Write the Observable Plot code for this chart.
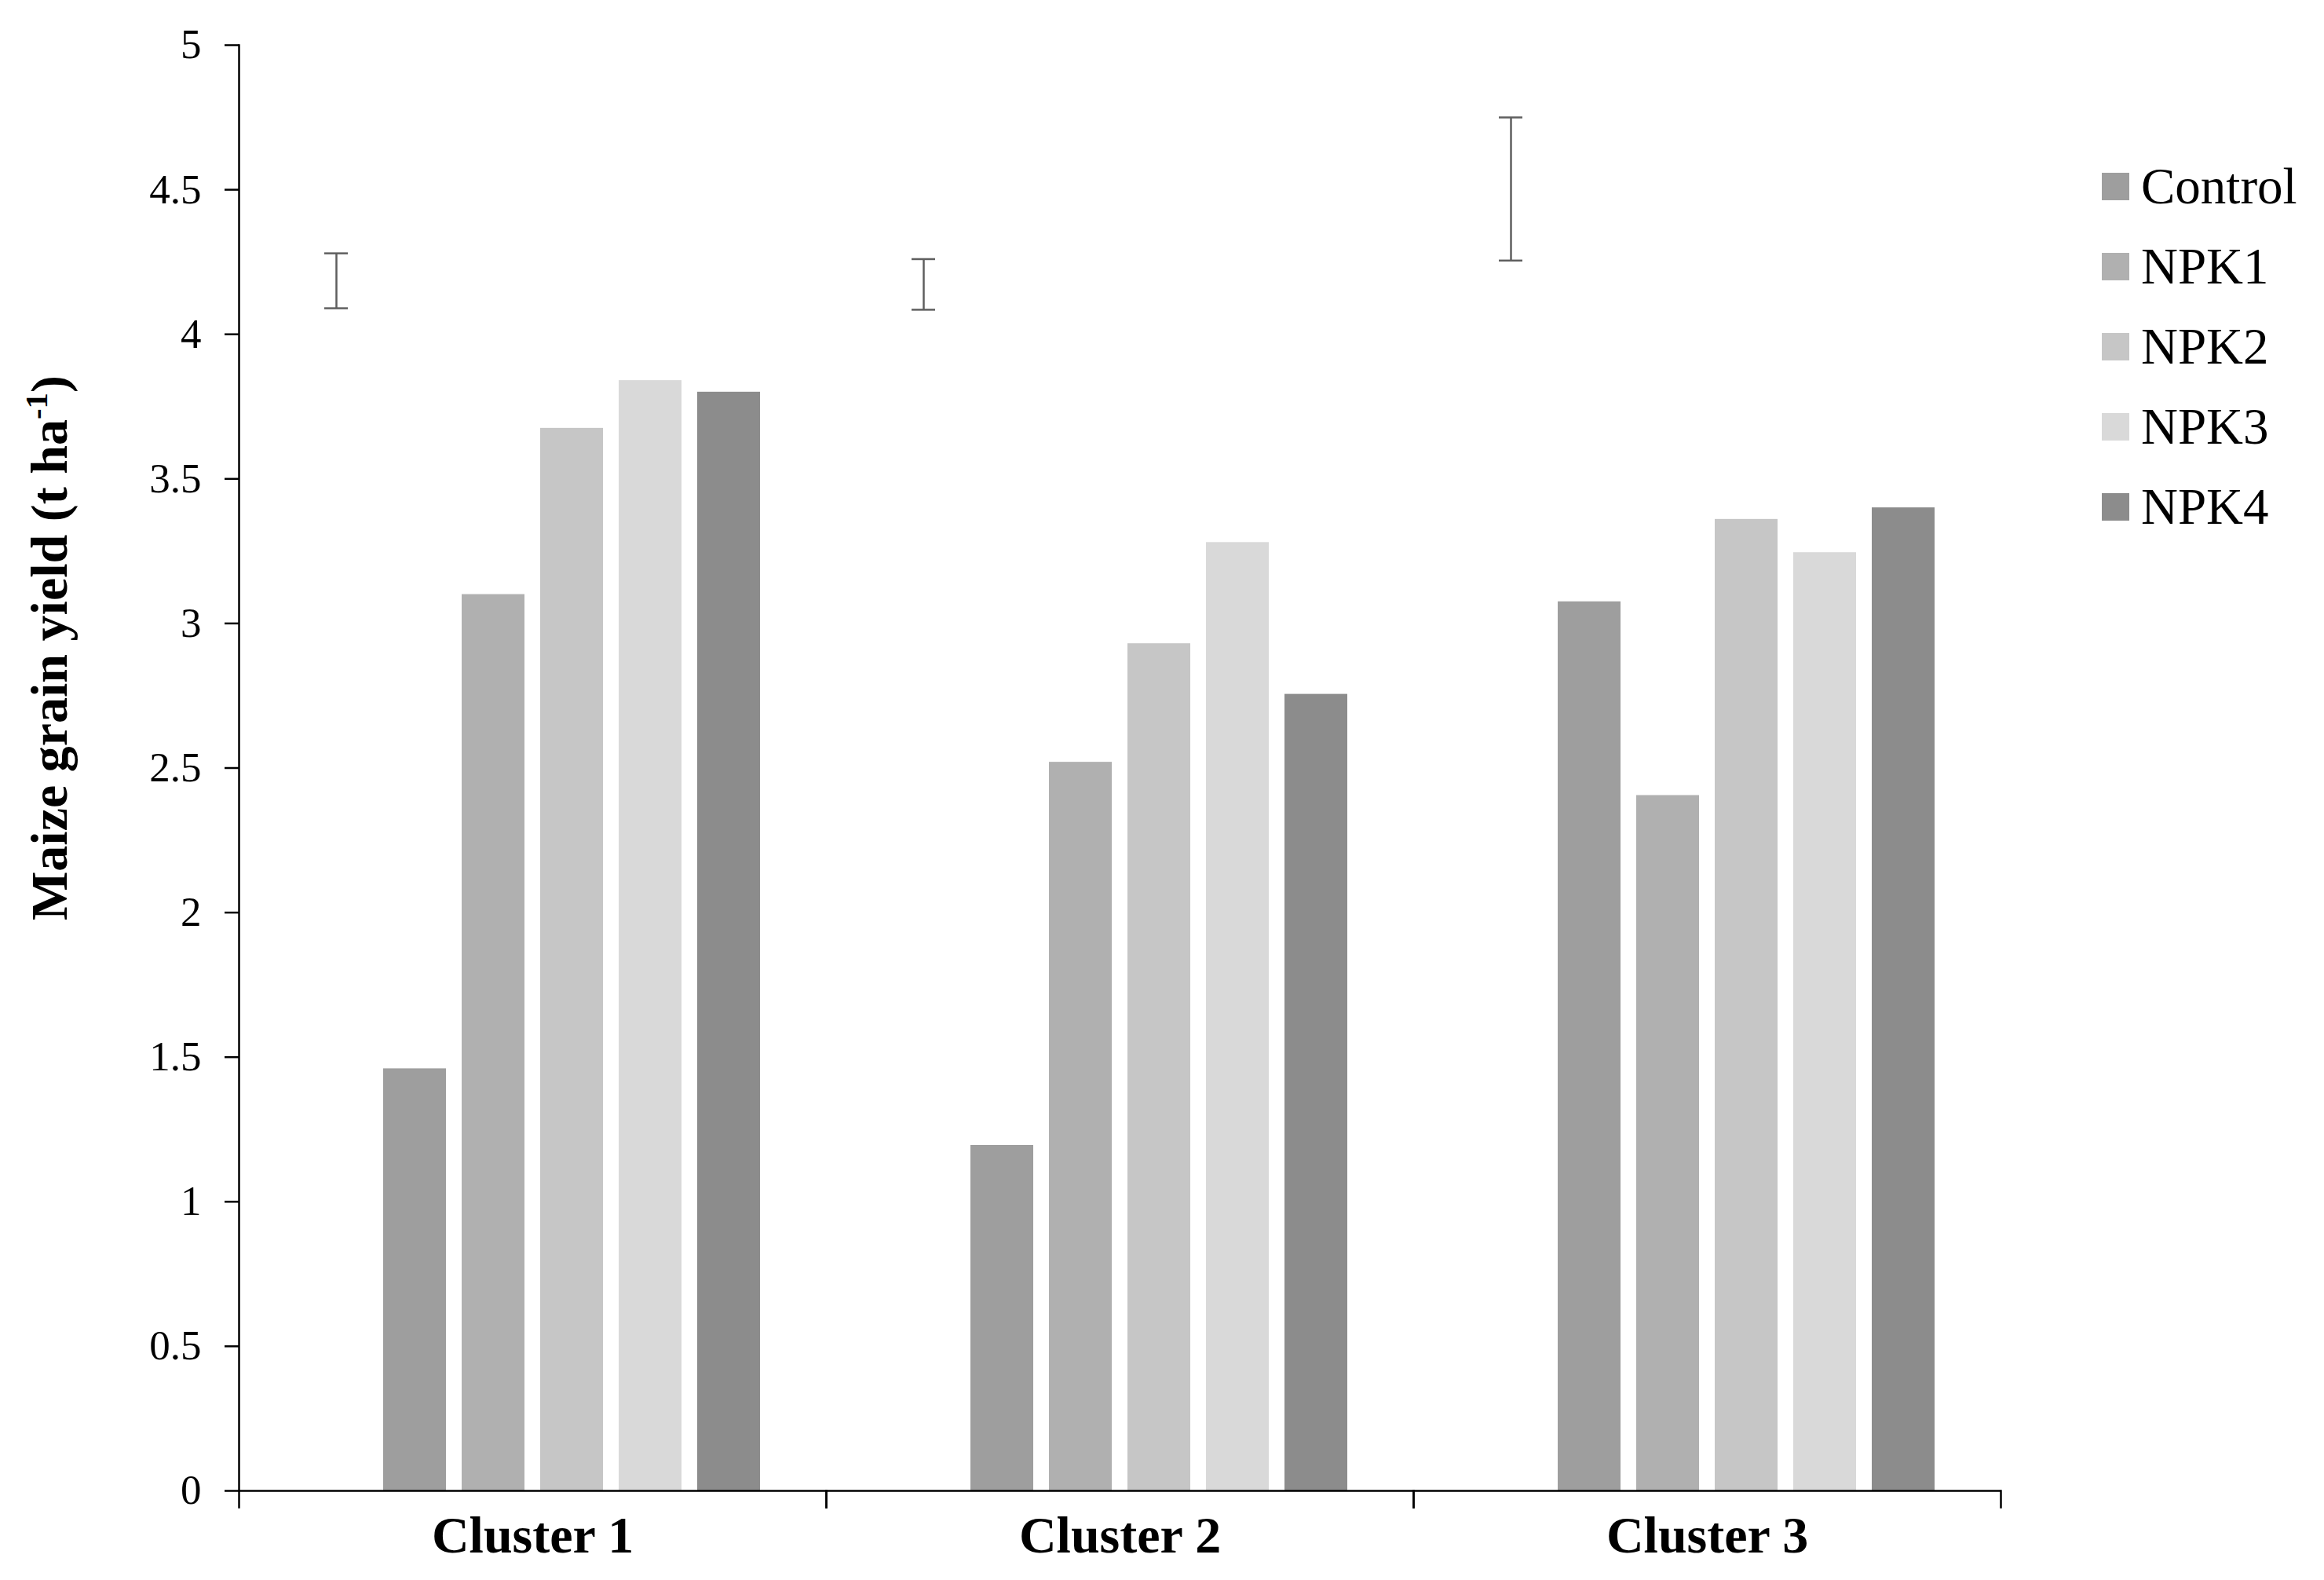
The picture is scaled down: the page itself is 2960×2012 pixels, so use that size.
<!DOCTYPE html>
<html><head><meta charset="utf-8">
<script src="https://cdn.jsdelivr.net/npm/d3@7"></script>
<script src="https://cdn.jsdelivr.net/npm/@observablehq/plot@0.6"></script>
<style>
html,body{margin:0;padding:0;background:#fff;}
#wrap{position:relative;width:2960px;height:2012px;font-family:"Liberation Serif","Times New Roman",serif;color:#000;}
#wrap svg{position:absolute;left:0;top:0;}
#ytitle{position:absolute;left:63px;top:825px;transform:translate(-50%,-50%) rotate(-90deg);white-space:nowrap;font-weight:bold;font-size:66px;line-height:1;}
#ytitle sup{font-size:0.62em;vertical-align:0.6em;line-height:0;}
#legend{position:absolute;left:2677px;top:186px;}
.row{display:flex;align-items:center;height:102px;font-size:65px;}
.sw{width:35px;height:35px;margin-right:15px;flex:none;}
</style></head>
<body><div id="wrap"><div id="ytitle">Maize grain yield (t ha<sup>-1</sup>)</div><div id="legend"></div></div>
<script>
// ---- data ----
const clusters = ["Cluster 1", "Cluster 2", "Cluster 3"];
const series = ["Control", "NPK1", "NPK2", "NPK3", "NPK4"];
const colors = ["#9e9e9e", "#b0b0b0", "#c6c6c6", "#d9d9d9", "#8c8c8c"];
const control = [1.46, 1.195, 3.075];
const npk1 = [3.10, 2.52, 2.405];
const npk2 = [3.675, 2.93, 3.36];
const npk3 = [3.84, 3.28, 3.245];
const npk4 = [3.80, 2.755, 3.40];
const errLow = [4.09, 4.085, 4.255];
const errHigh = [4.28, 4.26, 4.75];
const yTicks = [0, 0.5, 1, 1.5, 2, 2.5, 3, 3.5, 4, 4.5, 5];
const errSlot = "LSD";

// ---- tables ----
const seriesValues = [control, npk1, npk2, npk3, npk4];
const bars = [];
clusters.forEach((c, i) => series.forEach((s, j) => bars.push({cluster: c, series: s, value: seriesValues[j][i]})));
const errs = clusters.map((c, i) => ({cluster: c, slot: errSlot, low: errLow[i], high: errHigh[i]}));
const slots = [errSlot, ...series];

const errColor = "#5f5f5f";
const axisColor = "#000";

const chart = Plot.plot({
  width: 2960, height: 2012,
  marginLeft: 303, marginRight: 411, marginTop: 57, marginBottom: 114,
  style: {fontFamily: "'Liberation Serif', 'Times New Roman', serif", fontSize: "53px", color: "#000", background: "transparent", overflow: "visible"},
  fx: {domain: clusters, padding: 0, label: null},
  x: {domain: slots, paddingInner: 0.2, paddingOuter: 0.82, axis: null},
  y: {domain: [0, 5], axis: null},
  color: {domain: series, range: colors},
  marks: [
    Plot.barY(bars, {fx: "cluster", x: "series", y: "value", fill: "series"}),
    Plot.ruleX(errs, {fx: "cluster", x: "slot", y1: "low", y2: "high", stroke: errColor, strokeWidth: 2.5}),
    Plot.tickY(errs, {fx: "cluster", x: "slot", y: "low", stroke: errColor, strokeWidth: 2.5, insetLeft: 25, insetRight: 25}),
    Plot.tickY(errs, {fx: "cluster", x: "slot", y: "high", stroke: errColor, strokeWidth: 2.5, insetLeft: 25, insetRight: 25}),
    Plot.ruleY([0], {stroke: axisColor, strokeWidth: 2.5}),
    // category boundary ticks below the x axis
    Plot.frame({anchor: "left", insetTop: 1841, insetBottom: -21, stroke: axisColor, strokeWidth: 2.5}),
    Plot.frame({anchor: "right", insetTop: 1841, insetBottom: -21, stroke: axisColor, strokeWidth: 2.5}),
    // y axis line, first facet only
    Plot.frame({anchor: "left", fx: () => clusters[0], stroke: axisColor, strokeWidth: 2.5}),
    Plot.axisY({ticks: yTicks, tickSize: 18, tickPadding: 30, label: null, stroke: axisColor, strokeWidth: 2.5, tickFormat: d => String(d)}),
    Plot.axisFx({anchor: "bottom", tickSize: 0, tickPadding: 32, label: null, fontWeight: "bold", fontSize: 66})
  ]
});
document.getElementById("wrap").prepend(chart);

// ---- legend ----
const legend = document.getElementById("legend");
series.forEach((s, j) => {
  const row = document.createElement("div");
  row.className = "row";
  const sw = document.createElement("div");
  sw.className = "sw";
  sw.style.background = colors[j];
  const t = document.createElement("span");
  t.textContent = s;
  row.append(sw, t);
  legend.append(row);
});
</script>
</body></html>
